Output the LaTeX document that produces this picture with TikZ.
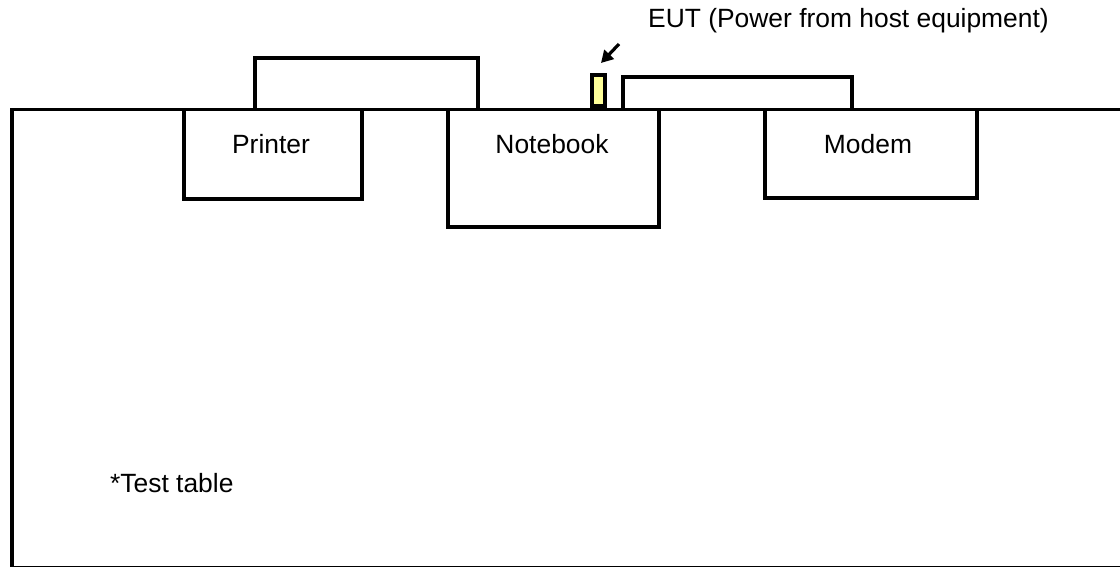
\documentclass[tikz,border=0pt]{standalone}
\usepackage{fontspec}
\setmainfont{Liberation Sans}
\usetikzlibrary{arrows.meta}
\definecolor{euty}{HTML}{FFFF99}
\tikzset{
  box/.style={draw=black, line width=3.5bp, fill=white, rectangle, inner sep=0pt},
  openbox/.style={draw=black, line width=3.5bp, line join=miter},
  lbl/.style={font=\fontsize{26.5}{30}\selectfont, inner sep=0pt},
}
\begin{document}
\begin{tikzpicture}[x=1bp, y=-1bp]
\useasboundingbox (0,0) rectangle (1120,567);
\fill[white] (0,0) rectangle (1120,567);
% table
\node[box, minimum width=1130bp, minimum height=458bp, anchor=north west] (table) at (10,108) {};
% monitors / host parts above table (open at the bottom)
\coordinate (pm1) at (255,108); \coordinate (pm2) at (255,58);
\coordinate (pm3) at (478,58);  \coordinate (pm4) at (478,108);
\draw[openbox] (pm1) -- (pm2) -- (pm3) -- (pm4);
\coordinate (mm1) at (623,108); \coordinate (mm2) at (623,77);
\coordinate (mm3) at (852,77);  \coordinate (mm4) at (852,108);
\draw[openbox] (mm1) -- (mm2) -- (mm3) -- (mm4);
\node[box, fill=euty, minimum width=13bp, minimum height=31bp, anchor=south west] (eut) at (590,108) {};
% devices
\node[box, minimum width=178bp, minimum height=89bp, anchor=north west] (printer) at (182,108) {};
\node[box, minimum width=211bp, minimum height=117bp, anchor=north west] (notebook) at (446,108) {};
\node[box, minimum width=212bp, minimum height=88bp, anchor=north west] (modem) at (763,108) {};
% labels
\node[lbl] (tprinter) at (271,144) {Printer};
\node[lbl] (tnotebook) at (552,144) {Notebook};
\node[lbl] (tmodem) at (868,144) {Modem};
\node[lbl, anchor=west] (ttable) at (110,483) {*Test table};
\node[lbl, anchor=west] (teut) at (648,21) {EUT (Power from host equipment)};
% arrow
\coordinate (astart) at (619,44);
\coordinate (aend) at (601,63);
\draw[line width=3.2bp, -{Triangle[length=12bp, width=13bp]}] (astart) -- (aend);
\end{tikzpicture}
\end{document}
